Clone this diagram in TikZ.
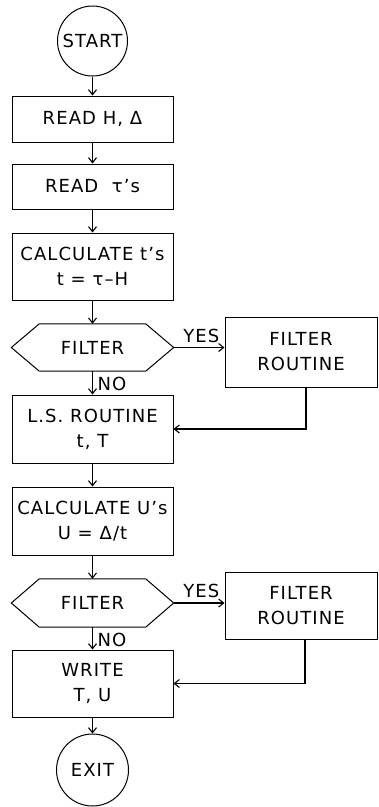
\documentclass[tikz,border=0pt]{standalone}
\usepackage{fontspec}
\setmainfont{DejaVu Sans}[LetterSpace=6]
\usetikzlibrary{arrows.meta}
\begin{document}
\begin{tikzpicture}[x=1pt,y=-1pt,
  every node/.style={font=\fontsize{18}{25}\selectfont, align=center},
  box/.style={draw, line width=1pt, minimum width=161pt, inner sep=0pt},
  rbox/.style={draw, line width=1pt, minimum width=152pt, inner sep=0pt},
  term/.style={draw, circle, line width=1pt, inner sep=0pt},
  hexin/.style={minimum width=106pt, minimum height=47pt, inner sep=0pt},
  hexline/.style={draw, line width=1pt},
  arr/.style={line width=1.1pt, -{Straight Barb[length=5pt,width=8pt]}},
  lbl/.style={inner sep=0pt}]
\useasboundingbox (0,0) rectangle (379,807);

\node[term, minimum size=70pt] (start) at (92.5,41) {START};
\node[box, minimum height=46pt] (b1) at (92.5,119) {READ H, Δ};
\node[box, minimum height=45pt] (b2) at (92.5,186.5) {READ \ τ’s};
\node[box, minimum height=67pt] (b3) at (92.5,266.5) {CALCULATE t’s\\ t = τ–H};
\node[hexin] (f1) at (92.5,347.5) {FILTER};
\draw[hexline] (f1.north west) -- (f1.north east) -- ([xshift=28pt]f1.east) -- (f1.south east) -- (f1.south west) -- ([xshift=-28pt]f1.west) -- cycle;
\node[rbox, minimum height=70pt] (r1) at (301,352) {FILTER\\ ROUTINE};
\node[box, minimum height=68pt] (b4) at (92.5,429) {L.S. ROUTINE\\ t, T};
\node[box, minimum height=68pt] (b5) at (92.5,521) {CALCULATE U’s\\ U = Δ/t};
\node[hexin, minimum height=48pt] (f2) at (92.5,603) {FILTER};
\draw[hexline] (f2.north west) -- (f2.north east) -- ([xshift=28pt]f2.east) -- (f2.south east) -- (f2.south west) -- ([xshift=-28pt]f2.west) -- cycle;
\node[rbox, minimum height=67pt] (r2) at (301,605.5) {FILTER\\ ROUTINE};
\node[box, minimum height=67pt] (b6) at (92.5,683.5) {WRITE\\ T, U};
\node[term, minimum size=72pt] (exit) at (92.5,770) {EXIT};

\draw[arr] (start) -- (b1);
\draw[arr] (b1) -- (b2);
\draw[arr] (b2) -- (b3);
\draw[arr] (b3) -- (f1);
\draw[arr] (f1) -- (b4);
\draw[arr] (b4) -- (b5);
\draw[arr] (b5) -- (f2);
\draw[arr] (f2) -- (b6);
\draw[arr] (b6) -- (exit);

\draw[arr] ([xshift=28pt]f1.east) -- (f1.east -| r1.west);
\draw[arr] ([xshift=28pt]f2.east) -- (f2.east -| r2.west);
\draw[arr] ([xshift=5pt]r1.south) -- ([xshift=5pt]r1.south |- b4.east) -- (b4.east);
\draw[arr] ([xshift=4pt]r2.south) -- ([xshift=4pt]r2.south |- b6.east) -- (b6.east);

\node[lbl, anchor=south east] (yes1) at ([xshift=-5pt,yshift=5pt]f1.east -| r1.west) {YES};
\node[lbl, anchor=south east] (yes2) at ([xshift=-5pt,yshift=5pt]f2.east -| r2.west) {YES};
\node[lbl, anchor=north west] (no1) at ([xshift=5pt,yshift=-6pt]f1.south) {NO};
\node[lbl, anchor=north west] (no2) at ([xshift=5pt,yshift=-6pt]f2.south) {NO};
\end{tikzpicture}
\end{document}
